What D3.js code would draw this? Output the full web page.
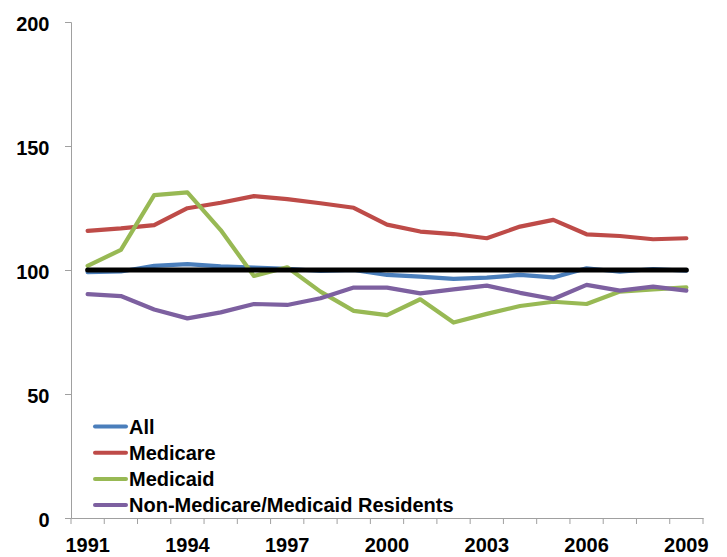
<!DOCTYPE html>
<html><head><meta charset="utf-8">
<script src="https://cdn.jsdelivr.net/npm/d3@7"></script>
<style>body{margin:0;background:#fff}svg{display:block}</style>
</head><body>
<svg id="c" width="727" height="557"></svg>
<script>
const years = d3.range(1991, 2010);
const xTickLabels = [1991, 1994, 1997, 2000, 2003, 2006, 2009];
const yTicks = [0, 50, 100, 150, 200];
const allValues      = [99.1, 99.4, 101.7, 102.4, 101.5, 101.0, 100.5, 99.6, 100.0, 98.0, 97.3, 96.4, 96.9, 98.0, 97.0, 100.7, 99.3, 100.4, 99.7];
const medicareValues = [115.8, 116.8, 118.1, 124.9, 127.1, 129.8, 128.6, 126.9, 125.1, 118.3, 115.5, 114.5, 112.8, 117.5, 120.2, 114.4, 113.7, 112.4, 112.8];
const medicaidValues = [101.7, 108.1, 130.2, 131.3, 116.1, 97.6, 101.1, 91.3, 83.5, 81.8, 88.2, 78.8, 82.3, 85.5, 87.2, 86.3, 91.3, 92.2, 93.0];
const nonValues      = [90.3, 89.5, 84.1, 80.5, 82.9, 86.3, 85.9, 88.6, 92.9, 92.9, 90.6, 92.2, 93.7, 90.8, 88.3, 94.0, 91.7, 93.3, 91.7];
const benchmark      = years.map(() => 100);
const seriesNames = ["All", "Medicare", "Medicaid", "Non-Medicare/Medicaid Residents"];
const seriesColors = ["#4a7ebb", "#be4b48", "#98b954", "#7d60a0"];
const seriesValues = [allValues, medicareValues, medicaidValues, nonValues];

const svg = d3.select("#c");
const font = "'Liberation Sans', Arial, sans-serif";
const pLeft = 71, pRight = 703, pTop = 22, pBottom = 518;

const x = d3.scaleBand().domain(years).range([pLeft, pRight]);
const y = d3.scaleLinear().domain([0, 200]).range([pBottom, pTop]);
const cx = d => x(d) + x.bandwidth() / 2;

// y axis
const yAxis = svg.append("g").attr("transform", `translate(${pLeft},0)`)
  .call(d3.axisLeft(y).tickValues(yTicks).tickSize(6).tickPadding(15.5));
yAxis.select(".domain").attr("stroke", "#a0a0a0");
yAxis.selectAll(".tick line").attr("stroke", "#a0a0a0");
yAxis.selectAll("text").attr("font-family", font).attr("font-weight", "bold")
  .attr("font-size", "20px").attr("fill", "#000").attr("dy", "0.4em");

// x axis
const xAxis = svg.append("g").attr("transform", `translate(0,${pBottom})`)
  .call(d3.axisBottom(x).tickValues(xTickLabels).tickSize(0).tickPadding(20));
xAxis.select(".domain").attr("stroke", "#a0a0a0");
xAxis.selectAll("text").attr("font-family", font).attr("font-weight", "bold")
  .attr("font-size", "20px").attr("fill", "#000");
// boundary ticks between categories
const bounds = years.map(d => x(d)).concat([pRight]);
svg.append("g").selectAll("line").data(bounds).join("line")
  .attr("x1", d => d).attr("x2", d => d)
  .attr("y1", pBottom).attr("y2", pBottom + 6)
  .attr("stroke", "#a0a0a0");

const line = d3.line().x((d, i) => cx(years[i])).y(d => y(d));

seriesValues.forEach((vals, i) => {
  svg.append("path").datum(vals)
    .attr("d", line).attr("fill", "none")
    .attr("stroke", seriesColors[i]).attr("stroke-width", 4.2)
    .attr("stroke-linejoin", "round").attr("stroke-linecap", "round");
});
svg.append("path").datum(benchmark)
  .attr("d", line).attr("fill", "none")
  .attr("stroke", "#000").attr("stroke-width", 5)
  .attr("stroke-linecap", "round");

// legend
const lg = svg.append("g");
seriesNames.forEach((n, i) => {
  const yy = 426.5 + i * 26.2;
  lg.append("line").attr("x1", 95).attr("x2", 126).attr("y1", yy).attr("y2", yy)
    .attr("stroke", seriesColors[i]).attr("stroke-width", 4).attr("stroke-linecap", "round");
  lg.append("text").attr("x", 129).attr("y", yy).attr("dy", "0.36em")
    .attr("font-family", font).attr("font-weight", "bold").attr("font-size", "20px")
    .attr("fill", "#000").text(n);
});
</script>
</body></html>
